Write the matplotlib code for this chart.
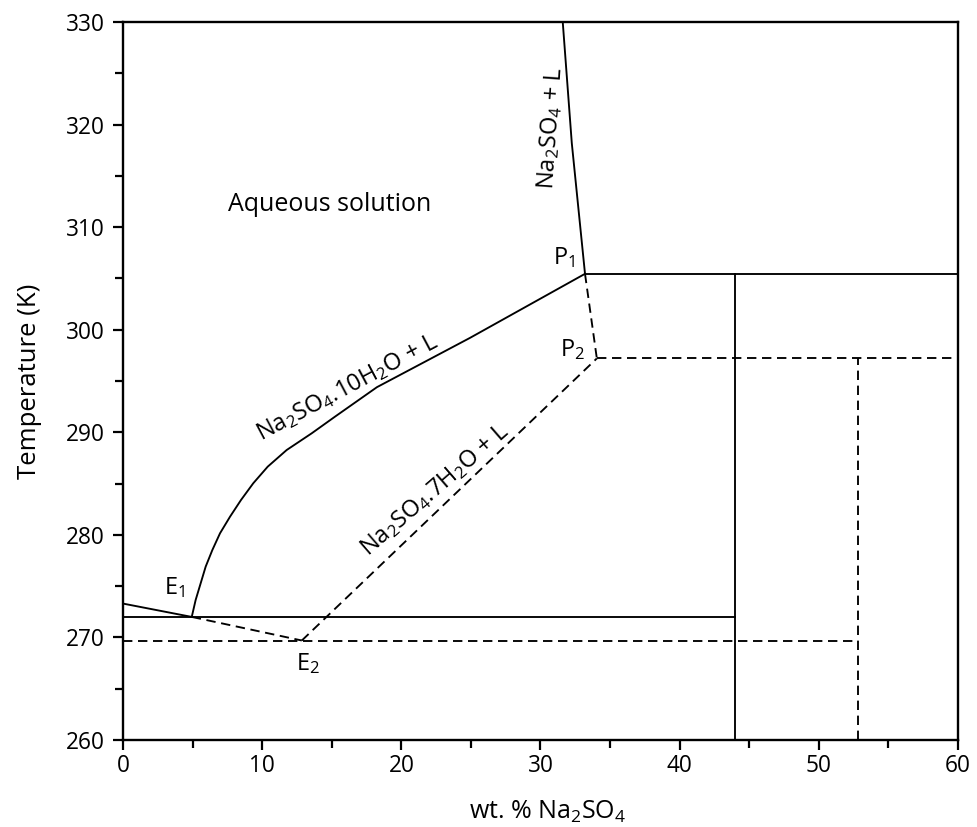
import matplotlib
matplotlib.use("Agg")
import matplotlib.pyplot as plt
from matplotlib.ticker import MultipleLocator

plt.rcParams['font.family'] = ['Open Sans', 'DejaVu Sans']
plt.rcParams['mathtext.default'] = 'regular'

# ---- data (wt.% Na2SO4, Temperature K) ----
ice_liquidus_x = [0.0, 4.94]
ice_liquidus_t = [273.3, 272.0]

deca_x = [4.94, 5.22, 5.94, 6.42, 6.97, 7.69, 8.48, 9.36, 10.4, 11.76, 13.56, 15.23, 18.25, 24.93, 33.2]
deca_t = [272.0, 273.65, 276.9, 278.52, 280.15, 281.77, 283.4, 285.03, 286.65, 288.27, 289.9, 291.52, 294.4, 299.2, 305.45]

anhyd_x = [31.6, 32.25, 33.2]
anhyd_t = [330.0, 318.2, 305.45]

hepta_x = [12.85, 34.05]
hepta_t = [269.7, 297.2]

meta_ice_x = [4.94, 12.85]
meta_ice_t = [272.0, 269.7]

p1p2_x = [33.2, 34.05]
p1p2_t = [305.45, 297.2]

e1_t = 272.0
e2_t = 269.7
p1_x, p1_t = 33.2, 305.45
p2_x, p2_t = 34.05, 297.2
deca_comp = 44.0
hepta_comp = 52.8
x_max = 60.0
t_min = 260.0

fig = plt.figure(figsize=(9.77, 8.27), dpi=100)
ax = fig.add_axes([0.1259, 0.1052, 0.8546, 0.8682])

lw = 1.35
dash = (0, (5, 3))
k = 'black'

# solid lines
ax.plot(ice_liquidus_x, ice_liquidus_t, color=k, lw=lw)
ax.plot(deca_x, deca_t, color=k, lw=lw, solid_joinstyle='round')
ax.plot(anhyd_x, anhyd_t, color=k, lw=lw)
ax.plot([0, deca_comp], [e1_t, e1_t], color=k, lw=lw)
ax.plot([deca_comp, deca_comp], [t_min, p1_t], color=k, lw=lw)
ax.plot([p1_x, x_max], [p1_t, p1_t], color=k, lw=lw)

# dashed (metastable) lines
ax.plot(hepta_x, hepta_t, color=k, lw=lw, linestyle=dash)
ax.plot(meta_ice_x, meta_ice_t, color=k, lw=lw, linestyle=dash)
ax.plot(p1p2_x, p1p2_t, color=k, lw=lw, linestyle=dash)
ax.plot([0, hepta_comp], [e2_t, e2_t], color=k, lw=lw, linestyle=dash)
ax.plot([hepta_comp, hepta_comp], [t_min, p2_t], color=k, lw=lw, linestyle=dash)
ax.plot([p2_x, x_max], [p2_t, p2_t], color=k, lw=lw, linestyle=dash)

fs = 17
ax.text(14.85, 312.2, 'Aqueous solution', fontsize=18, ha='center', va='center')
ax.text(16.1, 294.3, r'Na$_2$SO$_4$.10H$_2$O + L', fontsize=fs, ha='center', va='center',
        rotation=28, rotation_mode='anchor')
ax.text(22.4, 284.4, r'Na$_2$SO$_4$.7H$_2$O + L', fontsize=fs, ha='center', va='center',
        rotation=41, rotation_mode='anchor')
ax.text(30.75, 319.7, r'Na$_2$SO$_4$ + L', fontsize=fs, ha='center', va='center',
        rotation=86, rotation_mode='anchor')
ax.text(3.7, 274.9, r'E$_1$', fontsize=fs, ha='center', va='center')
ax.text(13.3, 267.4, r'E$_2$', fontsize=fs, ha='center', va='center')
ax.text(31.7, 307.0, r'P$_1$', fontsize=fs, ha='center', va='center')
ax.text(32.3, 298.1, r'P$_2$', fontsize=fs, ha='center', va='center')

ax.set_xlim(0, x_max)
ax.set_ylim(t_min, 330)
ax.xaxis.set_major_locator(MultipleLocator(10))
ax.xaxis.set_minor_locator(MultipleLocator(5))
ax.yaxis.set_major_locator(MultipleLocator(10))
ax.yaxis.set_minor_locator(MultipleLocator(5))
ax.tick_params(which='major', direction='out', length=7, width=1.6, labelsize=16.3)
ax.tick_params(axis='x', which='major', pad=3)
ax.tick_params(axis='y', which='major', pad=6)
ax.tick_params(which='minor', direction='out', length=6, width=1.6)
for s in ax.spines.values():
    s.set_linewidth(1.7)

fig.text(0.561, 0.0097, r'wt. % Na$_2$SO$_4$', fontsize=18, ha='center', va='baseline')
fig.text(0.0297, 0.539, 'Temperature (K)', fontsize=18.5, ha='center', va='center',
         rotation=90)

fig.savefig('out.png', dpi=100)
